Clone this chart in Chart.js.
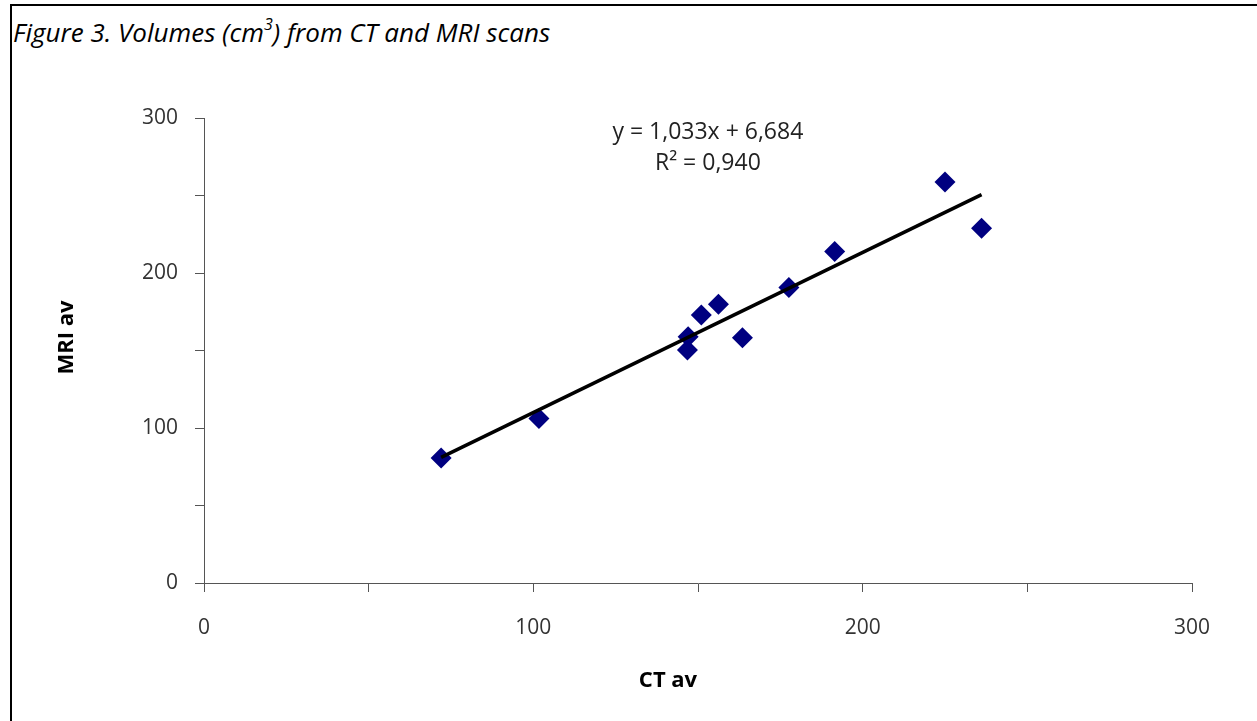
<!DOCTYPE html>
<html>
<head>
<meta charset="utf-8">
<title>Figure 3. Volumes from CT and MRI scans</title>
<script src="https://cdn.jsdelivr.net/npm/chart.js@4.4.1/dist/chart.umd.min.js"></script>
<style>
  html, body { margin: 0; padding: 0; background: #fff; }
  #wrap { position: relative; width: 1257px; height: 721px; overflow: hidden; }
  #frame {
    position: absolute; left: 10px; top: 4px; right: -10px; bottom: -10px;
    border-left: 2px solid #000; border-top: 2px solid #000;
  }
  #caption {
    position: absolute; left: 13px; top: 14px;
    font-family: "Open Sans", sans-serif; font-style: italic; font-size: 26px;
    color: #000; white-space: nowrap;
  }
  #caption sup { font-size: 16px; vertical-align: 12px; line-height: 0; }
  canvas { position: absolute; left: 0; top: 0; }
</style>
</head>
<body>
<div id="wrap">
  <div id="frame"></div>
  <div id="caption">Figure 3. Volumes (cm<sup>3</sup>) from CT and MRI scans</div>
  <canvas id="scatter" width="1257" height="721"></canvas>
</div>
<script>
// ==========================================
// Data
// ==========================================
const ctValues  = [72.0, 101.7, 146.8, 147.0, 151.0, 156.2, 163.5, 177.6, 191.5, 225.0, 236.1];
const mriValues = [80.7, 106.2, 150.3, 158.9, 172.9, 179.8, 158.3, 190.6, 213.8, 258.7, 228.9];

// linear trend as printed on the chart
const trendSlope = 1.033;
const trendIntercept = 6.684;
const trendLabel = ["y = 1,033x + 6,684", "R\u00B2 = 0,940"];

const axisMin = 0;
const axisMax = 300;
const axisStep = 50;

const xTitle = "CT av";
const yTitle = "MRI av";

// ==========================================
// Build datasets
// ==========================================
const points = ctValues.map((x, i) => ({ x: x, y: mriValues[i] }));
const xLo = Math.min(...ctValues);
const xHi = Math.max(...ctValues);
const trendPoints = [
  { x: xLo, y: trendSlope * xLo + trendIntercept },
  { x: xHi, y: trendSlope * xHi + trendIntercept }
];

const tickFont = { family: "Open Sans", size: 21 };
const axisColor = "#555";

// Only label the hundreds, keep the 50 ticks unlabeled
function hundredsOnly(value) {
  return value % 100 === 0 ? value : "";
}

// Text overlays: trend equation and axis titles
const overlayText = {
  id: "overlayText",
  afterDraw(chart) {
    const { ctx, chartArea, scales } = chart;
    ctx.save();
    ctx.fillStyle = "#222";
    ctx.font = "23px 'Open Sans'";
    ctx.textAlign = "center";
    ctx.textBaseline = "middle";
    const ex = scales.x.getPixelForValue(153);
    ctx.fillText(trendLabel[0], ex, scales.y.getPixelForValue(290.5));
    ctx.fillText(trendLabel[1], ex, scales.y.getPixelForValue(270.5));

    ctx.fillStyle = "#000";
    ctx.font = "bold 22px 'Open Sans'";
    ctx.fillText(xTitle, (chartArea.left + chartArea.right) / 2 - 30, 681);
    ctx.translate(67, (chartArea.top + chartArea.bottom) / 2 - 13);
    ctx.rotate(-Math.PI / 2);
    ctx.fillText(yTitle, 0, 0);
    ctx.restore();
  }
};

new Chart(document.getElementById("scatter").getContext("2d"), {
  type: "scatter",
  data: {
    datasets: [
      {
        type: "line",
        label: "Linear trend",
        data: trendPoints,
        borderColor: "#000",
        borderWidth: 3.5,
        pointRadius: 0,
        fill: false,
        order: 0
      },
      {
        label: "MRI av",
        data: points,
        pointStyle: "rectRot",
        pointRadius: 10.5,
        pointBackgroundColor: "#000080",
        pointBorderColor: "#000080",
        pointBorderWidth: 0,
        order: 1
      }
    ]
  },
  options: {
    responsive: false,
    animation: false,
    layout: { padding: { top: 118, right: 65, left: 0, bottom: 0 } },
    plugins: {
      legend: { display: false },
      tooltip: { enabled: false }
    },
    scales: {
      x: {
        type: "linear",
        min: axisMin,
        max: axisMax,
        afterFit(scale) { scale.height = 138; },
        ticks: { stepSize: axisStep, callback: hundredsOnly, font: tickFont, color: "#333", padding: 23, maxRotation: 0 },
        grid: { drawOnChartArea: false, drawTicks: true, tickLength: 9, color: axisColor },
        border: { display: true, color: axisColor, width: 1 }
      },
      y: {
        type: "linear",
        min: axisMin,
        max: axisMax,
        afterFit(scale) { scale.width = 204; },
        ticks: { stepSize: axisStep, callback: hundredsOnly, font: tickFont, color: "#333", padding: 17 },
        grid: { drawOnChartArea: false, drawTicks: true, tickLength: 9, color: axisColor },
        border: { display: true, color: axisColor, width: 1 }
      }
    }
  },
  plugins: [overlayText]
});
</script>
</body>
</html>
